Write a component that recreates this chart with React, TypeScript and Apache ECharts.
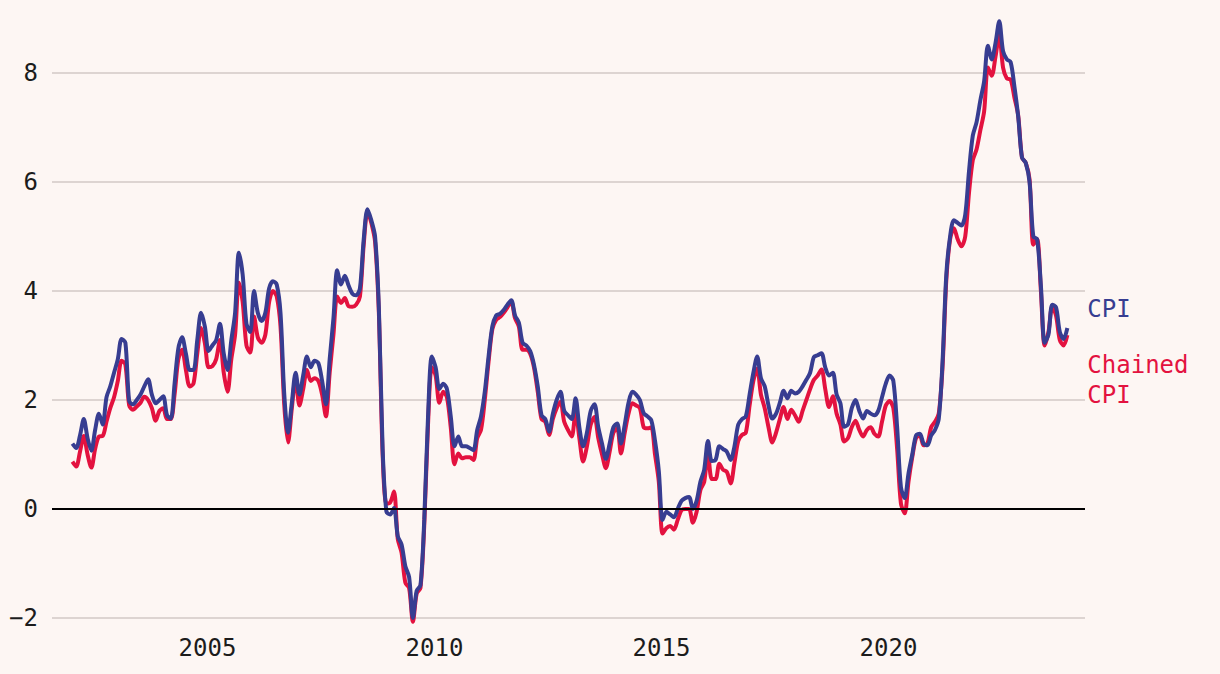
import React, { useEffect, useRef } from "react";
import * as echarts from "echarts";

// Monthly year-over-year change (%), January 2002 – December 2023
const START_YEAR = 2002;

const cpi: number[] = [
  // 2002
  1.2, 1.12, 1.35, 1.65, 1.3, 1.07, 1.45, 1.75, 1.55, 2.05, 2.25, 2.5,
  // 2003
  2.75, 3.12, 3.05, 1.98, 1.92, 2.0, 2.1, 2.25, 2.38, 2.1, 1.94, 2.0,
  // 2004
  2.07, 1.72, 1.66, 2.3, 2.95, 3.15, 2.85, 2.55, 2.55, 3.1, 3.6, 3.35,
  // 2005
  2.9, 3.0, 3.1, 3.4, 2.85, 2.55, 3.1, 3.6, 4.7, 4.3, 3.4, 3.25,
  // 2006
  4.0, 3.6, 3.45, 3.6, 4.05, 4.18, 4.12, 3.6, 2.1, 1.4, 1.95, 2.5,
  // 2007
  2.1, 2.45, 2.8, 2.6, 2.72, 2.68, 2.35, 1.92, 2.75, 3.5, 4.38, 4.12,
  // 2008
  4.28, 4.1, 3.95, 3.92, 4.05, 4.95, 5.5, 5.3, 5.0, 3.7, 1.1, -0.05,
  // 2009
  -0.1, 0.02, -0.5, -0.65, -1.05, -1.25, -2.0, -1.5, -1.4, -0.2, 1.7, 2.8,
  // 2010
  2.6, 2.2, 2.3, 2.2, 1.7, 1.15, 1.33, 1.15, 1.15, 1.12, 1.08, 1.45,
  // 2011
  1.7, 2.15, 2.8, 3.35, 3.55, 3.58, 3.65, 3.75, 3.83, 3.55, 3.42, 3.05,
  // 2012
  3.0, 2.9, 2.65, 2.25, 1.72, 1.65, 1.42, 1.75, 2.0, 2.15, 1.8, 1.72,
  // 2013
  1.65, 2.03, 1.5, 1.15, 1.4, 1.8, 1.92, 1.5, 1.2, 0.92, 1.2, 1.5,
  // 2014
  1.57, 1.2, 1.55, 1.95, 2.15, 2.1, 2.0, 1.76, 1.7, 1.63, 1.25, 0.7,
  // 2015
  -0.2, -0.05, -0.1, -0.15, 0.0, 0.15, 0.2, 0.22, 0.0, 0.15, 0.5, 0.72,
  // 2016
  1.25, 0.88, 0.9, 1.15, 1.1, 1.05, 0.9, 1.15, 1.55, 1.65, 1.7, 2.1,
  // 2017
  2.5, 2.8, 2.4, 2.25, 1.9, 1.66, 1.75, 1.95, 2.17, 2.03, 2.17, 2.12,
  // 2018
  2.15, 2.25, 2.37, 2.5, 2.79, 2.82, 2.86, 2.6, 2.45, 2.5, 2.1, 1.94,
  // 2019
  1.51, 1.55, 1.85, 2.0, 1.8, 1.66, 1.8, 1.75, 1.72, 1.8, 2.05, 2.3,
  // 2020
  2.45, 2.35, 1.5, 0.4, 0.2, 0.65, 1.0, 1.35, 1.38, 1.2, 1.17, 1.35,
  // 2021
  1.45, 1.65, 2.7, 4.3, 5.0, 5.3, 5.25, 5.2, 5.4, 6.2, 6.85, 7.1,
  // 2022
  7.5, 7.85, 8.5, 8.25, 8.55, 8.95, 8.4, 8.25, 8.2, 7.75, 7.2, 6.45,
  // 2023
  6.35, 6.0, 5.0, 4.95, 4.1, 3.05, 3.2, 3.75, 3.7, 3.25, 3.12, 3.32,
];

const chainedCpi: number[] = [
  // 2002
  0.87, 0.78, 1.05, 1.34, 1.0, 0.76, 1.1, 1.33, 1.34, 1.6, 1.85, 2.05,
  // 2003
  2.35, 2.72, 2.65, 1.9, 1.82, 1.88, 1.95, 2.06, 2.0, 1.85, 1.62, 1.8,
  // 2004
  1.85, 1.65, 1.65, 2.1, 2.75, 2.92, 2.55, 2.25, 2.3, 2.85, 3.32, 3.05,
  // 2005
  2.6, 2.62, 2.75, 3.1, 2.5, 2.15, 2.75, 3.2, 4.15, 3.8, 3.0, 2.87,
  // 2006
  3.53, 3.15, 3.05, 3.2, 3.8, 4.0, 3.9, 3.35, 1.9, 1.22, 1.85, 2.4,
  // 2007
  1.9, 2.2, 2.55, 2.35, 2.4, 2.35, 2.1, 1.7, 2.5, 3.2, 3.9, 3.78,
  // 2008
  3.87, 3.72, 3.71, 3.75, 3.9, 4.85, 5.45, 5.25, 4.9, 3.6, 1.0, 0.1,
  // 2009
  0.12, 0.32, -0.55, -0.8, -1.35, -1.45, -2.07, -1.55, -1.45, -0.3, 1.55, 2.6,
  // 2010
  2.45, 1.95, 2.15, 2.05, 1.5, 0.82, 1.02, 0.93, 0.95, 0.95, 0.9, 1.3,
  // 2011
  1.45, 2.0, 2.7, 3.3, 3.47, 3.52, 3.6, 3.7, 3.8, 3.5, 3.35, 2.92,
  // 2012
  2.92, 2.85, 2.6, 2.15, 1.65, 1.6, 1.36, 1.65, 1.85, 1.97, 1.6, 1.45,
  // 2013
  1.33, 1.79, 1.3, 0.87, 1.15, 1.55, 1.69, 1.3, 1.0, 0.75, 1.05, 1.4,
  // 2014
  1.48, 1.02, 1.4, 1.75, 1.94, 1.9, 1.85, 1.5, 1.48, 1.5, 1.0, 0.5,
  // 2015
  -0.45, -0.35, -0.31, -0.38, -0.2, -0.02, 0.0, 0.0, -0.25, -0.05, 0.35, 0.5,
  // 2016
  1.02, 0.55, 0.55, 0.83, 0.72, 0.68, 0.47, 0.85, 1.25, 1.36, 1.4, 1.9,
  // 2017
  2.35, 2.58, 2.1, 1.85, 1.5, 1.22, 1.4, 1.65, 1.87, 1.65, 1.82, 1.72,
  // 2018
  1.6, 1.8, 2.0, 2.2, 2.37, 2.45, 2.56, 2.2, 1.87, 2.07, 1.75, 1.55,
  // 2019
  1.24, 1.3, 1.5, 1.62, 1.45, 1.33, 1.45, 1.5, 1.38, 1.33, 1.6, 1.9,
  // 2020
  1.98, 1.85, 1.1, 0.1, -0.08, 0.5, 0.95, 1.3, 1.35, 1.17, 1.2, 1.5,
  // 2021
  1.6, 1.75, 2.6, 4.2, 4.95, 5.15, 4.95, 4.82, 5.0, 5.8, 6.4, 6.6,
  // 2022
  6.95, 7.3, 8.1, 7.95, 8.3, 8.7, 8.1, 7.9, 7.88, 7.55, 7.22, 6.45,
  // 2023
  6.35, 6.05, 4.85, 4.95, 4.0, 3.0, 3.25, 3.71, 3.55, 3.1, 3.0, 3.19,
];

const xTickYears = [2005, 2010, 2015, 2020];
const yMin = -2;
const yMax = 8;
const yStep = 2;

const BLUE = "#373d91";
const RED = "#e3123f";
const BG = "#fdf6f3";
const GRID = "#ddd4d1";
const TEXT = "#1c1c1c";
const FONT = "'DejaVu Sans Mono', 'Liberation Mono', monospace";

const toPoints = (vals: number[]) =>
  vals.map((v, i) => [START_YEAR + (i + 0.3) / 12, v]);

export default function App() {
  const ref = useRef<HTMLDivElement>(null);

  useEffect(() => {
    if (!ref.current) return;
    const chart = echarts.init(ref.current, undefined, { renderer: "svg" });
    chart.setOption({
      animation: false,
      backgroundColor: BG,
      grid: {
        left: 52,
        right: 135,
        top: 73,
        bottom: 56,
        containLabel: false,
        outerBoundsMode: "none",
      },
      xAxis: {
        type: "value",
        min: 2001.575,
        max: 2024.33,
        axisLine: { show: false },
        axisTick: { show: false },
        splitLine: { show: false },
        axisLabel: {
          customValues: xTickYears,
          formatter: (v: number) => String(Math.round(v)),
          fontFamily: FONT,
          fontSize: 24,
          color: TEXT,
          margin: 18,
        },
      },
      yAxis: {
        type: "value",
        min: yMin,
        max: yMax,
        interval: yStep,
        axisLine: { show: false },
        axisTick: { show: false },
        splitLine: { show: true, lineStyle: { color: GRID, width: 2 } },
        axisLabel: {
          formatter: (v: number) => (v < 0 ? "\u2212" + Math.abs(v) : String(v)),
          fontFamily: FONT,
          fontSize: 24,
          color: TEXT,
          margin: 14,
        },
      },
      series: [
        {
          name: "Chained CPI",
          type: "line",
          data: toPoints(chainedCpi),
          showSymbol: false,
          smooth: 0.3,
          clip: false,
          lineStyle: { color: RED, width: 4 },
          itemStyle: { color: RED },
          endLabel: {
            show: true,
            formatter: "Chained\nCPI",
            color: RED,
            fontFamily: FONT,
            fontSize: 24,
            lineHeight: 30,
            distance: 20,
            offset: [0, 45],
          },
          silent: true,
        },
        {
          name: "CPI",
          type: "line",
          data: toPoints(cpi),
          showSymbol: false,
          smooth: 0.3,
          clip: false,
          lineStyle: { color: BLUE, width: 4 },
          itemStyle: { color: BLUE },
          endLabel: {
            show: true,
            formatter: "CPI",
            color: BLUE,
            fontFamily: FONT,
            fontSize: 24,
            distance: 20,
            offset: [0, -19],
          },
          markLine: {
            silent: true,
            symbol: ["none", "none"],
            label: { show: false },
            lineStyle: { color: "#000", width: 2, type: "solid" },
            data: [{ yAxis: 0 }],
          },
          silent: true,
        },
      ],
    });
    return () => chart.dispose();
  }, []);

  return (
    <div
      ref={ref}
      style={{ position: "absolute", left: 0, top: 0, width: 1220, height: 674 }}
    />
  );
}
